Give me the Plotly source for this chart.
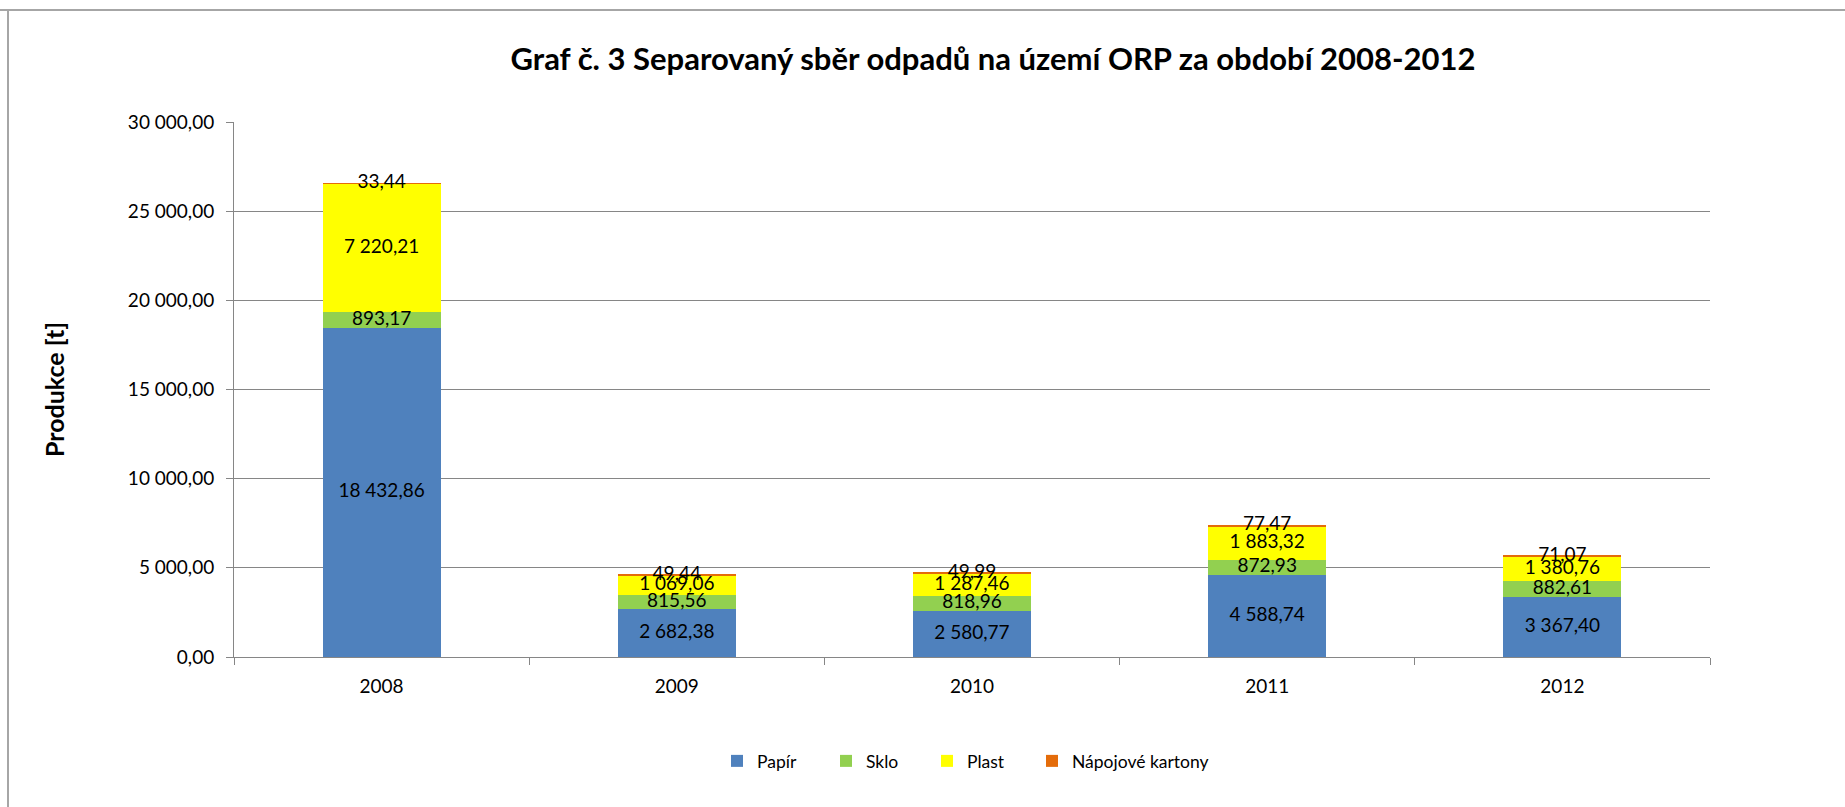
import plotly.graph_objects as go

# Separated waste collection, tonnes per year
years = ["2008", "2009", "2010", "2011", "2012"]
papir = [18432.86, 2682.38, 2580.77, 4588.74, 3367.40]
sklo = [893.17, 815.56, 818.96, 872.93, 882.61]
plast = [7220.21, 1069.06, 1287.46, 1883.32, 1380.76]
kartony = [33.44, 49.44, 49.99, 77.47, 71.07]

series_names = ["Papír", "Sklo", "Plast", "Nápojové kartony"]
series_colors = ["#4F81BD", "#92D050", "#FFFF00", "#E46C0A"]
series_values = [papir, sklo, plast, kartony]

FONT = "Lato, Carlito, Calibri, sans-serif"
W, H = 1845, 807
L, R, T, B = 234, 135, 122, 150
PW, PH = W - L - R, H - T - B


def cz(v):
    """Czech number format: space thousands separator, decimal comma."""
    s = f"{v:,.2f}"
    return s.replace(",", " ").replace(".", ",")


def px_x(p):
    return (p - L) / PW


def px_y(p):
    return (H - B - p) / PH


# each legend entry gets its own legend box so the spacing can be set per item
legend_ids = ["legend", "legend2", "legend3", "legend4"]
legend_left_px = [717, 826, 927, 1032]

fig = go.Figure()

for name, color, vals, lid in zip(series_names, series_colors, series_values, legend_ids):
    fig.add_trace(go.Bar(
        x=years, y=vals, name=name,
        marker=dict(color=color, line=dict(width=0)),
        hoverinfo="skip", legend=lid,
    ))

# Value labels centred in each stacked segment
base = [0.0] * len(years)
for vals in series_values:
    mids = [b + v / 2 for b, v in zip(base, vals)]
    fig.add_trace(go.Scatter(
        x=years, y=mids, mode="text",
        text=[cz(v) for v in vals],
        textposition="middle center",
        textfont=dict(family=FONT, size=19, color="#000000"),
        showlegend=False, hoverinfo="skip",
    ))
    base = [b + v for b, v in zip(base, vals)]

# Chart frame (top and left edges)
fig.add_shape(type="line", xref="paper", yref="paper",
              x0=px_x(0), x1=px_x(W), y0=px_y(10), y1=px_y(10),
              line=dict(color="#A6A6A6", width=2))
fig.add_shape(type="line", xref="paper", yref="paper",
              x0=px_x(8), x1=px_x(8), y0=px_y(10), y1=px_y(H),
              line=dict(color="#A6A6A6", width=2))

legend_common = dict(
    orientation="h", yanchor="middle", y=px_y(761), xanchor="left",
    font=dict(family=FONT, size=17.5, color="#000000"),
    bgcolor="rgba(0,0,0,0)", borderwidth=0, itemwidth=30,
)

fig.update_layout(
    width=W, height=H,
    margin=dict(l=L, r=R, t=T, b=B, autoexpand=False),
    paper_bgcolor="white", plot_bgcolor="white",
    barmode="stack", bargap=0.6,
    separators=", ",
    font=dict(family=FONT, size=19, color="#000000"),
    title=dict(
        text="<b>Graf č. 3 Separovaný sběr odpadů na území ORP za období 2008-2012</b>",
        x=993 / W, xanchor="center", y=1 - 59 / H, yanchor="middle",
        xref="container", yref="container",
        font=dict(family=FONT, size=31, color="#000000"),
    ),
    xaxis=dict(
        type="category",
        showgrid=False,
        showline=True, linecolor="#868686", linewidth=1,
        ticks="outside", tickson="boundaries", ticklen=7, tickcolor="#868686",
        tickfont=dict(family=FONT, size=19, color="#000000"),
        ticklabelstandoff=12,
        fixedrange=True,
    ),
    yaxis=dict(
        range=[0, 30000], dtick=5000, tickformat=",.2f",
        showgrid=True, gridcolor="#868686", gridwidth=1,
        showline=True, linecolor="#868686", linewidth=1,
        ticks="outside", ticklen=7, tickcolor="#868686",
        tickfont=dict(family=FONT, size=19, color="#000000"),
        ticklabelstandoff=8,
        zeroline=False,
        title=dict(text="<b>Produkce [t]</b>", standoff=56,
                   font=dict(family=FONT, size=25, color="#000000")),
        fixedrange=True,
    ),
    showlegend=True,
)

for lid, left in zip(legend_ids, legend_left_px):
    fig.update_layout({lid: dict(legend_common, x=px_x(left))})

fig.write_html("out.html")
